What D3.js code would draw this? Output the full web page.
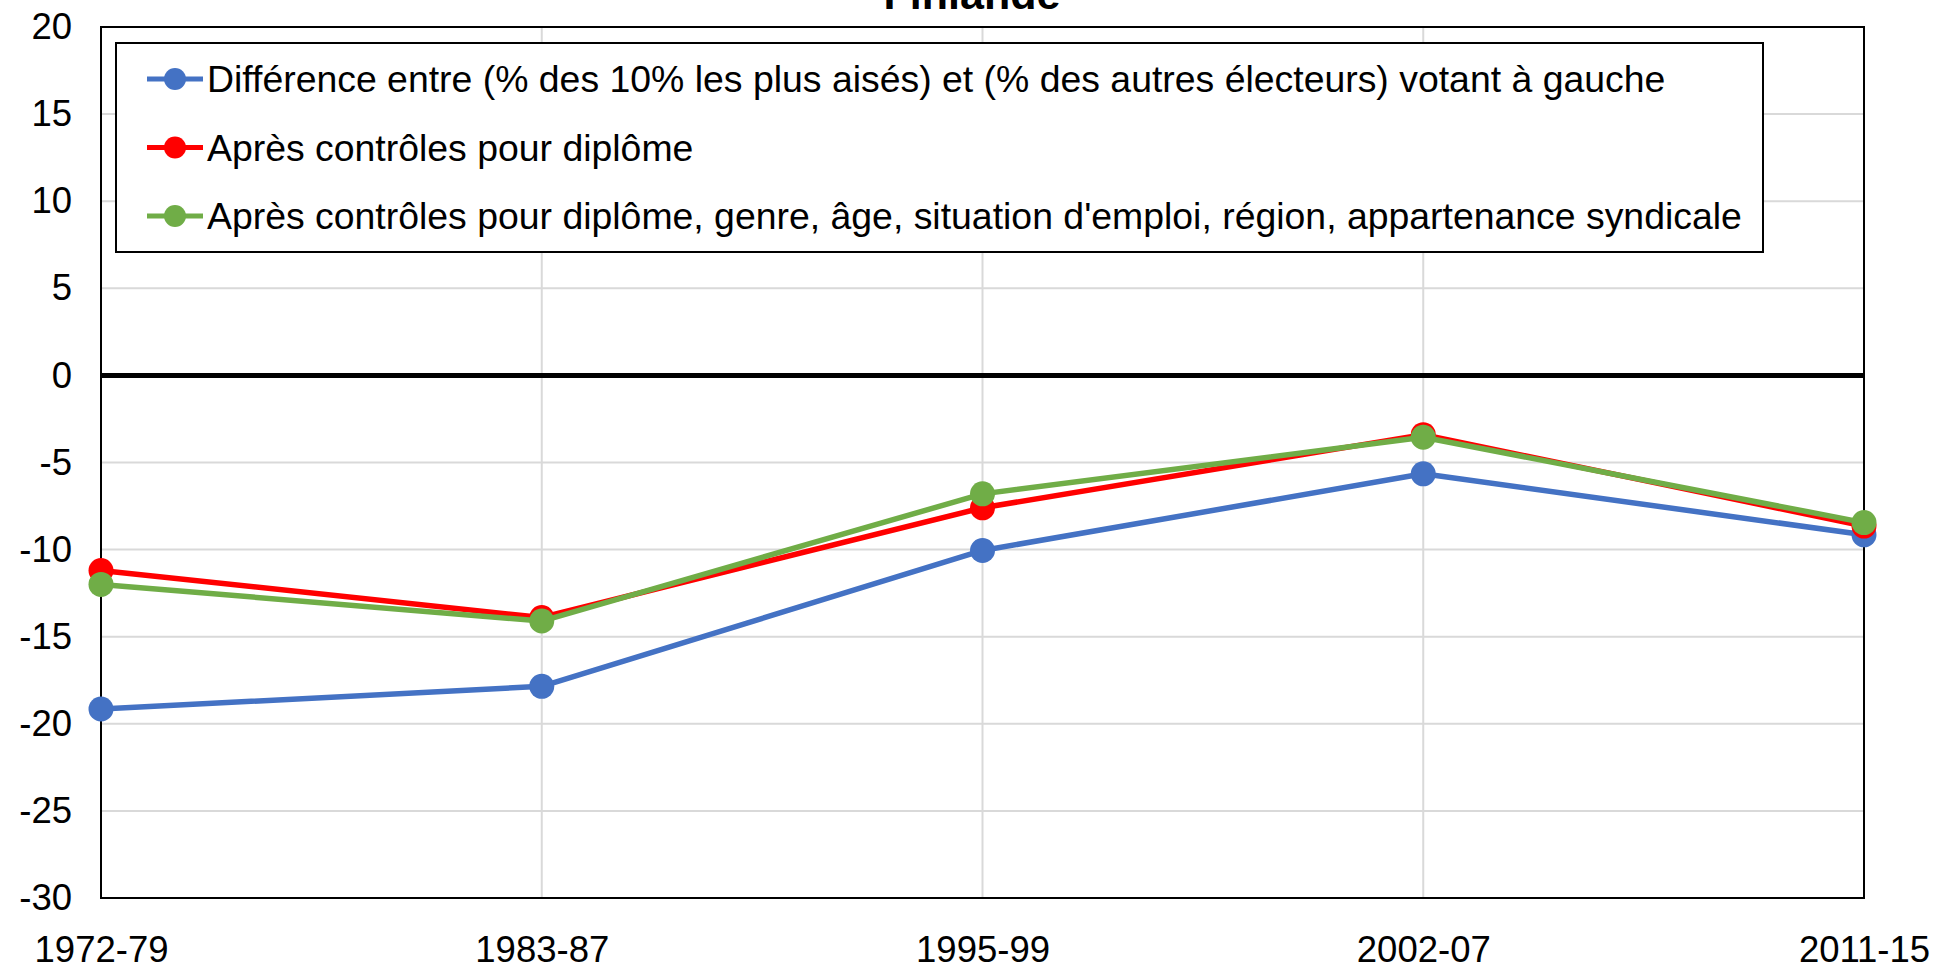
<!DOCTYPE html>
<html>
<head>
<meta charset="utf-8">
<script src="https://cdn.jsdelivr.net/npm/d3@7"></script>
<style>
  body { margin: 0; background: #fff; }
  svg { display: block; font-family: "Liberation Sans", Arial, sans-serif; }
</style>
</head>
<body>
<script>
var W = 1937, H = 970;

// données
var periodes = ['1972-79', '1983-87', '1995-99', '2002-07', '2011-15'];
var ecartBrut = [-19.15, -17.85, -10.05, -5.65, -9.15];
var apresDiplome = [-11.2, -13.9, -7.6, -3.4, -8.65];
var apresTout = [-12.0, -14.1, -6.8, -3.55, -8.45];
var yTicks = [20, 15, 10, 5, 0, -5, -10, -15, -20, -25, -30];

var series = [
  { nom: 'Différence entre (% des 10% les plus aisés) et (% des autres électeurs) votant à gauche', valeurs: ecartBrut, couleur: '#4472C4' },
  { nom: 'Après contrôles pour diplôme', valeurs: apresDiplome, couleur: '#FF0000' },
  { nom: "Après contrôles pour diplôme, genre, âge, situation d'emploi, région, appartenance syndicale", valeurs: apresTout, couleur: '#70AD47' }
];

var m = { left: 101, right: 73, top: 27, bottom: 72 };

var svg = d3.select('body').append('svg')
  .attr('width', W)
  .attr('height', H);

var x = d3.scalePoint()
  .domain(periodes)
  .range([m.left, W - m.right]);

var y = d3.scaleLinear()
  .domain([-30, 20])
  .range([H - m.bottom, m.top]);

// titre (coupé en haut comme dans l'original)
svg.append('text')
  .attr('x', 972)
  .attr('y', 9)
  .attr('text-anchor', 'middle')
  .attr('font-size', 43)
  .attr('font-weight', 'bold')
  .text('Finlande');

// grille
svg.append('g').selectAll('line')
  .data(yTicks)
  .join('line')
  .attr('x1', m.left).attr('x2', W - m.right)
  .attr('y1', (d) => y(d)).attr('y2', (d) => y(d))
  .attr('stroke', '#d9d9d9')
  .attr('stroke-width', 2);

svg.append('g').selectAll('line')
  .data(periodes)
  .join('line')
  .attr('x1', (d) => x(d)).attr('x2', (d) => x(d))
  .attr('y1', m.top).attr('y2', H - m.bottom)
  .attr('stroke', '#d9d9d9')
  .attr('stroke-width', 2);

// cadre
svg.append('rect')
  .attr('x', m.left).attr('y', m.top)
  .attr('width', W - m.right - m.left)
  .attr('height', H - m.bottom - m.top)
  .attr('fill', 'none')
  .attr('stroke', '#000')
  .attr('stroke-width', 2);

// ligne zéro
svg.append('line')
  .attr('x1', m.left).attr('x2', W - m.right)
  .attr('y1', y(0)).attr('y2', y(0))
  .attr('stroke', '#000')
  .attr('stroke-width', 5);

// axes
var yAxis = svg.append('g')
  .attr('transform', 'translate(' + m.left + ',0)')
  .call(d3.axisLeft(y).tickValues(yTicks).tickFormat((d) => String(d)).tickSize(0).tickPadding(29));
yAxis.select('.domain').remove();
yAxis.selectAll('text').attr('font-size', 36.5).attr('fill', '#000').attr('font-family', null);

var xAxis = svg.append('g')
  .attr('transform', 'translate(0,' + (H - m.bottom) + ')')
  .call(d3.axisBottom(x).tickSize(0).tickPadding(38));
xAxis.select('.domain').remove();
xAxis.selectAll('text').attr('font-size', 36.5).attr('fill', '#000').attr('font-family', null);

// séries
var line = d3.line()
  .x((d, i) => x(periodes[i]))
  .y((d) => y(d));

series.forEach(function (s) {
  svg.append('path')
    .datum(s.valeurs)
    .attr('d', line)
    .attr('fill', 'none')
    .attr('stroke', s.couleur)
    .attr('stroke-width', 5.5)
    .attr('stroke-linejoin', 'round');

  svg.append('g').selectAll('circle')
    .data(s.valeurs)
    .join('circle')
    .attr('cx', (d, i) => x(periodes[i]))
    .attr('cy', (d) => y(d))
    .attr('r', 12.5)
    .attr('fill', s.couleur);
});

// légende
var leg = svg.append('g');
leg.append('rect')
  .attr('x', 116).attr('y', 43)
  .attr('width', 1647).attr('height', 209)
  .attr('fill', '#fff')
  .attr('stroke', '#000')
  .attr('stroke-width', 2);

var rows = leg.selectAll('g.row')
  .data(series)
  .join('g')
  .attr('class', 'row')
  .attr('transform', (d, i) => 'translate(0,' + (79 + i * 68.5) + ')');

rows.append('line')
  .attr('x1', 147).attr('x2', 203)
  .attr('stroke', (d) => d.couleur)
  .attr('stroke-width', 5);

rows.append('circle')
  .attr('cx', 175)
  .attr('r', 11)
  .attr('fill', (d) => d.couleur);

rows.append('text')
  .attr('x', 207)
  .attr('dy', '0.35em')
  .attr('font-size', 37.4)
  .text((d) => d.nom);
</script>
</body>
</html>
